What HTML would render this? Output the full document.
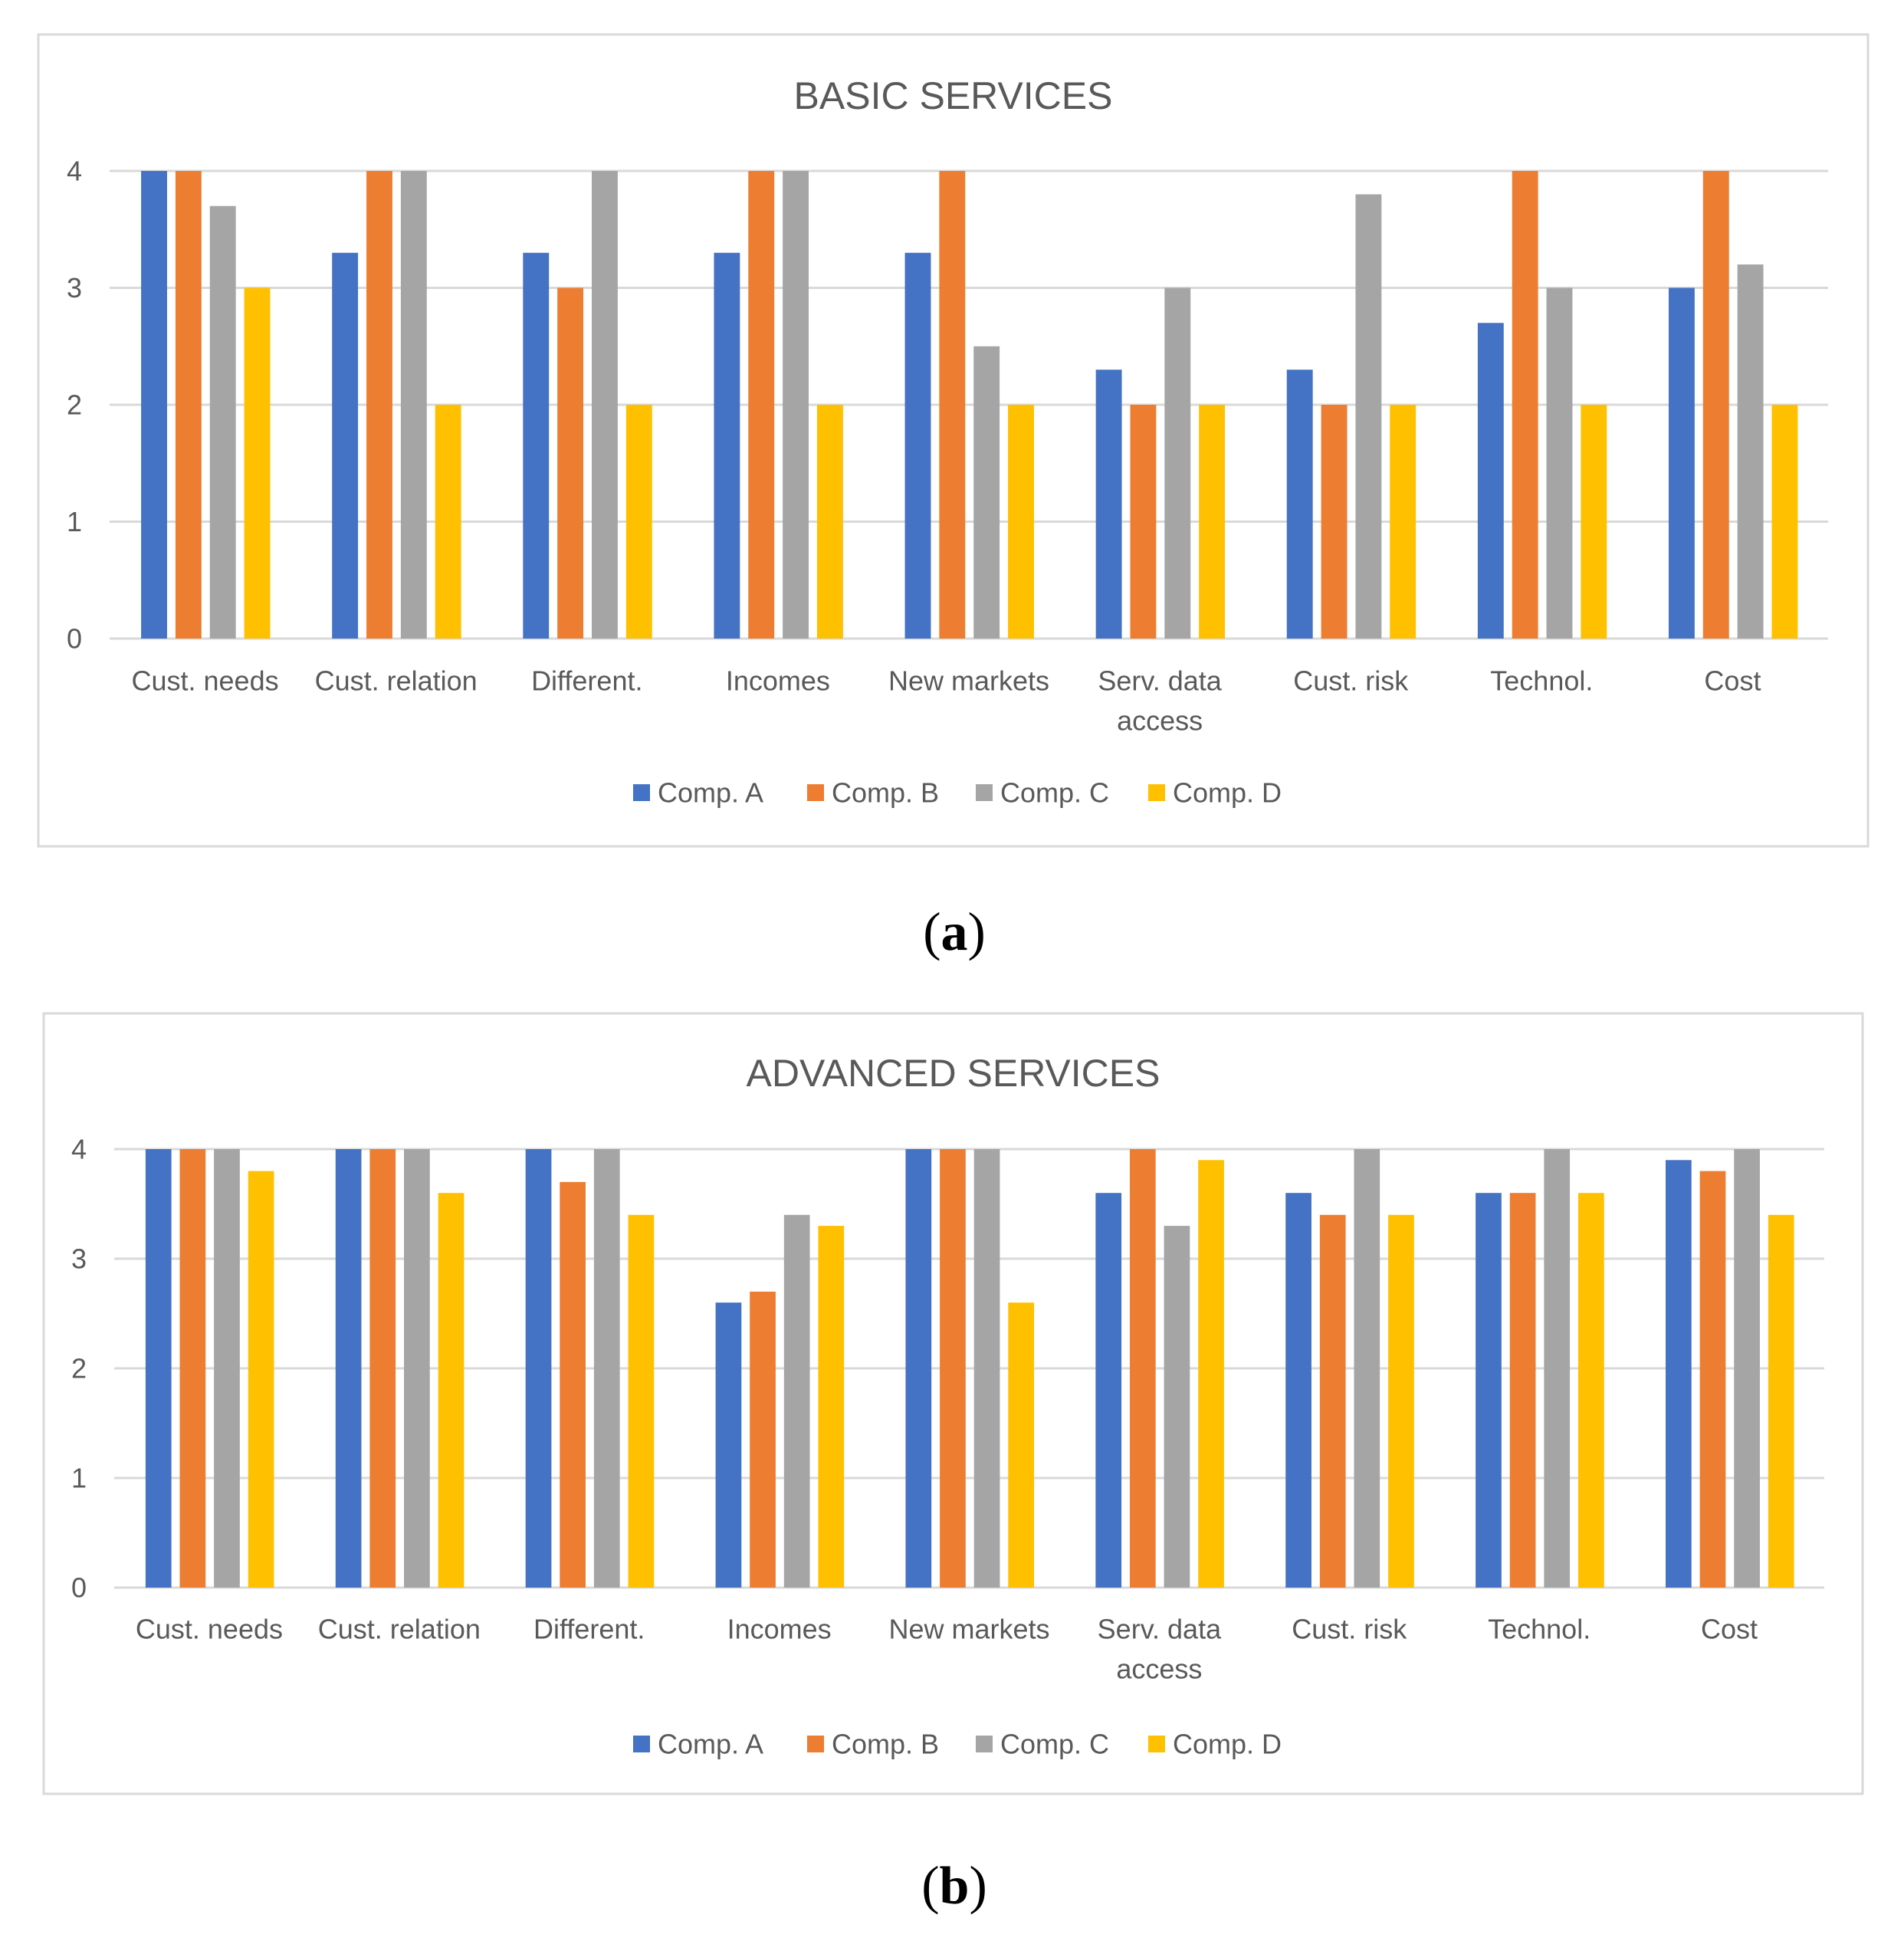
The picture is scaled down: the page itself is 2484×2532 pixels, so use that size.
<!DOCTYPE html>
<html><head><meta charset="utf-8"><style>
html,body{margin:0;padding:0;background:#fff;}
svg{display:block;font-family:"Liberation Sans",sans-serif;}
</style></head><body>
<svg id="svg" width="2484" height="2532" viewBox="0 0 2484 2532"></svg>
<script>
const categories=["Cust. needs","Cust. relation","Different.","Incomes","New markets","Serv. data|access","Cust. risk","Technol.","Cost"];
const seriesNames=["Comp. A","Comp. B","Comp. C","Comp. D"];
const basicA=[4,3.3,3.3,3.3,3.3,2.3,2.3,2.7,3];
const basicB=[4,4,3,4,4,2,2,4,4];
const basicC=[3.7,4,4,4,2.5,3,3.8,3,3.2];
const basicD=[3,2,2,2,2,2,2,2,2];
const advA=[4,4,4,2.6,4,3.6,3.6,3.6,3.9];
const advB=[4,4,3.7,2.7,4,4,3.4,3.6,3.8];
const advC=[4,4,4,3.4,4,3.3,4,4,4];
const advD=[3.8,3.6,3.4,3.3,2.6,3.9,3.4,3.6,3.4];
const yTicks=[0,1,2,3,4];
const colors=["#4472C4","#ED7D31","#A5A5A5","#FFC000"];
const NS="http://www.w3.org/2000/svg";
const svg=document.getElementById('svg');
function mk(tag,attrs,parent,text){const e=document.createElementNS(NS,tag);for(const k in attrs)e.setAttribute(k,attrs[k]);if(text!==undefined)e.textContent=text;(parent||svg).appendChild(e);return e;}
function chart(cfg,series,prefix){
  const g=mk('g',{});
  
  
  const box=mk('rect',{x:cfg.bx,y:cfg.by,width:cfg.bw,height:cfg.bh,fill:'#fff',stroke:'#d9d9d9','stroke-width':3},g);
  
  
  const t=mk('text',{x:cfg.bx+cfg.bw/2,y:cfg.titleY,'text-anchor':'middle','dominant-baseline':'central','font-size':50,fill:'#595959'},g,cfg.title);
  
  
  const yMax=4;
  const yS=v=>cfg.y0-(v/yMax)*(cfg.y0-cfg.y4);
  yTicks.forEach(v=>{
    const l=mk('line',{x1:cfg.px0,x2:cfg.px1,y1:yS(v),y2:yS(v),stroke:'#d9d9d9','stroke-width':3},g);
    
    
    const tl=mk('text',{x:cfg.px0-46,y:yS(v),'text-anchor':'middle','dominant-baseline':'central','font-size':36,fill:'#595959'},g,String(v));
    
    
  });
  const cw=(cfg.px1-cfg.px0)/categories.length;
  const bw=cw*0.136, step=cw*0.18, off=cw*0.165;
  categories.forEach((c,i)=>{
    const x0=cfg.px0+i*cw;
    series.forEach((s,j)=>{
      const r=mk('rect',{x:x0+off+j*step,y:yS(s[i]),width:bw,height:yS(0)-yS(s[i]),fill:colors[j]},g);
      
      
    });
    const lines=c.split('|');
    lines.forEach((ln,k)=>{
      const tx=mk('text',{x:x0+cw/2,y:cfg.catY+k*52,'text-anchor':'middle','dominant-baseline':'central','font-size':36,fill:'#595959'},g,ln);
      
      
    });
  });
  seriesNames.forEach((n,j)=>{
    const lx=cfg.legX[j];
    const sq=mk('rect',{x:lx,y:cfg.legY-11,width:22,height:22,fill:colors[j]},g);
    
    
    const lt=mk('text',{x:lx+32,y:cfg.legY,'dominant-baseline':'central','font-size':36,fill:'#595959'},g,n);
    
    
  });
}
chart({bx:50,by:45,bw:2387,bh:1059,title:'BASIC SERVICES',titleY:125,y0:833,y4:223,px0:143,px1:2385,catY:888,legX:[826,1053,1273,1498],legY:1034},[basicA,basicB,basicC,basicD],'basic');
chart({bx:57,by:1322,bw:2373,bh:1018,title:'ADVANCED SERVICES',titleY:1400,y0:2071,y4:1499,px0:149,px1:2380,catY:2125,legX:[826,1053,1273,1498],legY:2275},[advA,advB,advC,advD],'advanced');
const ca=mk('text',{x:1245,y:1216,'text-anchor':'middle','dominant-baseline':'central','font-size':70,'font-family':'Liberation Serif, serif',fill:'#000'});
ca.innerHTML='(<tspan font-weight="bold">a</tspan>)';


const cb=mk('text',{x:1245,y:2460,'text-anchor':'middle','dominant-baseline':'central','font-size':70,'font-family':'Liberation Serif, serif',fill:'#000'});
cb.innerHTML='(<tspan font-weight="bold">b</tspan>)';


</script>
</body></html>
